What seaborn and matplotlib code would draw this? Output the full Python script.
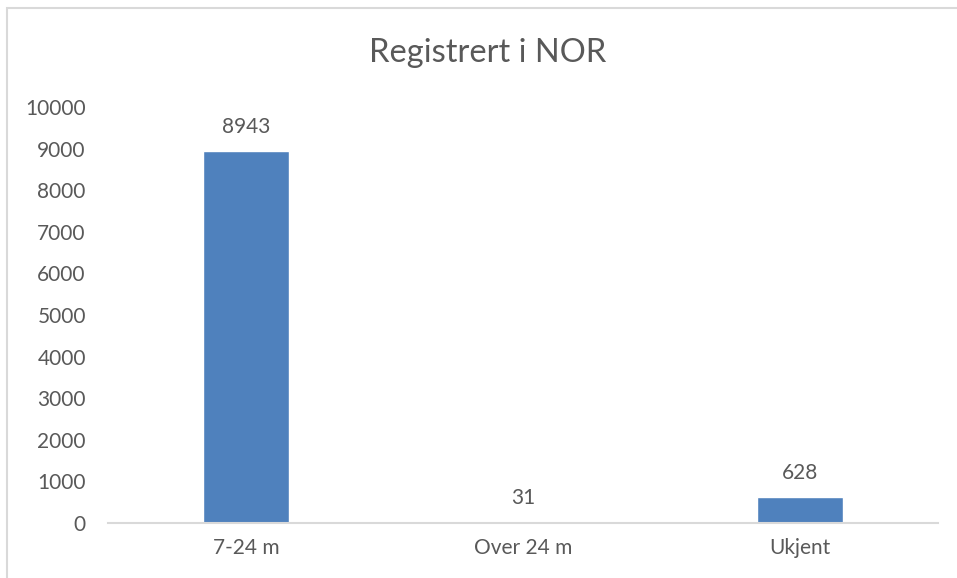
import matplotlib
matplotlib.use("Agg")
import matplotlib.pyplot as plt
import seaborn as sns
import pandas as pd
from matplotlib.patches import Rectangle

# ============================
# DATA
# ============================
categories = ["7-24 m", "Over 24 m", "Ukjent"]
values = [8943, 31, 628]
yticks = list(range(0, 10001, 1000))

df = pd.DataFrame({"kategori": categories, "antall": values})

# ============================
# STYLE
# ============================
sns.set_style("white")
plt.rcParams["font.family"] = ["Lato", "DejaVu Sans"]
text_color = "#595959"

fig = plt.figure(figsize=(9.57, 5.78), dpi=100)
ax = fig.add_axes([0.1129, 0.0952, 0.8673, 0.7197])

# chart frame (light gray border)
fig.patches.append(Rectangle((7 / 957, -0.05), 1.1, 1.05 - 8 / 578,
                             transform=fig.transFigure, fill=False,
                             edgecolor="#d9d9d9", linewidth=1.5))

sns.barplot(data=df, x="kategori", y="antall", color="#4f81bd",
            width=0.31, saturation=1, ax=ax)

ax.bar_label(ax.containers[0], labels=[str(v) for v in values],
             padding=10, fontsize=15, color=text_color)

ax.set_ylim(0, 10000)
ax.set_xlim(-0.5, 2.5)
ax.set_yticks(yticks)
ax.set_yticklabels([str(t) for t in yticks])
ax.tick_params(axis="y", length=0, pad=16, labelsize=15, labelcolor=text_color)
ax.tick_params(axis="x", length=0, pad=11, labelsize=15, labelcolor=text_color)

ax.set_xlabel("")
ax.set_ylabel("")
for side in ["top", "right", "left"]:
    ax.spines[side].set_visible(False)
ax.spines["bottom"].set_color("#d9d9d9")
ax.spines["bottom"].set_linewidth(1.5)

fig.text(0.51, 0.908, "Registrert i NOR", ha="center", va="center",
         fontsize=23.5, color=text_color)

plt.savefig("out.png", dpi=100)
